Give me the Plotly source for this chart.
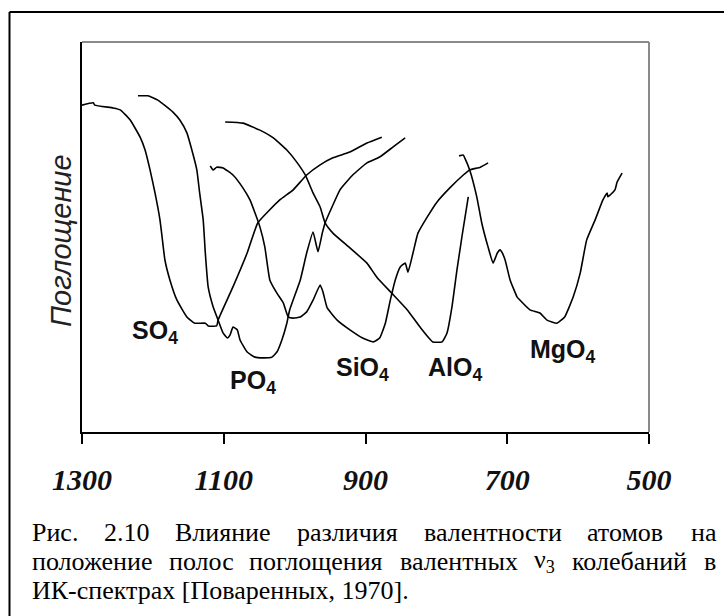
import plotly.graph_objects as go

# ---------------- data (wavenumber, cm-1 ; absorption, arbitrary units) ----------------
so4_wn = [1300, 1284, 1282, 1256, 1246, 1232, 1218, 1211, 1204, 1197, 1190, 1187, 1183, 1176, 1166, 1152,
          1141, 1126, 1122, 1110, 1108, 1087, 1067, 1052, 1021, 1002, 983, 964, 946, 922, 898, 877]
so4_ab = [83.8, 84.4, 83.8, 83.1, 82.6, 80.0, 75.6, 72.3, 67.2, 61.3, 54.4, 50.0, 44.1, 39.0, 33.8, 29.5,
          27.9, 27.9, 27.2, 27.2, 28.7, 37.2, 45.9, 53.6, 59.5, 62.1, 65.9, 68.5, 70.3, 71.8, 74.1, 75.6]

po4_wn = [1221, 1207, 1193, 1180, 1172, 1162, 1152, 1145, 1138, 1134, 1129, 1126, 1122, 1115, 1108, 1101,
          1095, 1091, 1087, 1081, 1077, 1067, 1056, 1045, 1032, 1025, 1018, 1011, 1007, 992, 983, 974,
          967, 961, 957, 946, 936, 918, 898, 880, 861, 844]
po4_ab = [86.2, 86.2, 85.1, 83.3, 82.1, 80.0, 76.7, 72.3, 67.2, 61.3, 54.4, 45.9, 37.2, 32.1, 28.7, 25.4,
          24.1, 24.9, 26.9, 26.2, 23.6, 20.5, 19.2, 19.0, 19.2, 20.5, 23.6, 27.9, 31.3, 39.0, 45.9, 51.3,
          46.2, 51.0, 53.6, 58.2, 62.1, 65.9, 69.0, 70.5, 73.1, 75.4]

sio4_wn = [1119, 1115, 1110, 1101, 1087, 1073, 1063, 1056, 1049, 1042, 1035, 1025, 1016, 1009, 1002, 992,
           983, 974, 964, 960, 954, 940, 922, 904, 889, 880, 872, 865, 858, 851, 844, 840, 833, 826, 813,
           799, 781, 762, 753, 738, 727]
sio4_ab = [68.2, 67.2, 67.9, 67.7, 65.9, 62.6, 59.5, 56.2, 52.6, 47.4, 39.0, 35.6, 33.1, 29.5, 29.2, 29.5,
           30.8, 33.8, 37.7, 35.9, 31.8, 28.7, 26.2, 24.1, 23.1, 24.1, 27.9, 33.8, 39.0, 42.3, 43.3, 41.0,
           45.9, 51.0, 55.1, 59.0, 62.6, 65.9, 67.2, 67.9, 69.0]

alo4_wn = [1098, 1073, 1049, 1030, 1011, 997, 985, 974, 964, 957, 946, 922, 898, 884, 863, 841, 823, 805,
           792, 785, 778, 771, 764, 755]
alo4_ab = [79.5, 79.2, 77.4, 75.4, 72.3, 69.2, 65.9, 61.3, 57.7, 53.6, 51.0, 47.2, 43.3, 39.7, 35.6, 31.3,
           26.9, 23.1, 23.1, 25.4, 32.1, 41.5, 50.0, 60.3]

mgo4_wn = [768, 762, 760, 753, 743, 736, 727, 720, 714, 710, 707, 703, 696, 686, 682, 668, 654, 644, 630,
           619, 607, 597, 588, 576, 565, 559, 558, 548, 545, 538]
mgo4_ab = [70.8, 71.0, 70.3, 67.2, 60.3, 53.6, 47.4, 43.3, 45.9, 46.7, 45.9, 44.1, 39.0, 34.6, 33.8, 31.3,
           30.5, 28.7, 27.9, 29.5, 34.6, 40.8, 49.2, 54.4, 59.5, 61.3, 60.3, 62.1, 64.1, 66.4]

band_names = ["SO<sub>4</sub>", "PO<sub>4</sub>", "SiO<sub>4</sub>", "AlO<sub>4</sub>", "MgO<sub>4</sub>"]
tick_values = [1300, 1100, 900, 700, 500]
tick_labels = ["1300", "1100", "900", "700", "500"]
y_title = "Поглощение"
caption_line1 = "Рис. 2.10 Влияние различия валентности атомов на"
caption_line2 = "положение полос поглощения валентных ν<sub>3</sub> колебаний в"
caption_line3 = "ИК-спектрах [Поваренных, 1970]."

# ---------------- figure geometry ----------------
W, H = 724, 616
L, R, T, B = 82, 649, 42, 432   # plot area in pixels


def pxx(px):
    return (px - L) / (R - L)


def pxy(py):
    return (B - py) / (B - T)


fig = go.Figure()
series = [(so4_wn, so4_ab), (po4_wn, po4_ab), (sio4_wn, sio4_ab), (alo4_wn, alo4_ab), (mgo4_wn, mgo4_ab)]
for xs, ys in series:
    fig.add_trace(go.Scatter(x=xs, y=ys, mode="lines",
                             line=dict(color="black", width=1.6, shape="spline", smoothing=0.4),
                             showlegend=False, hoverinfo="skip"))

# band labels
label_pos = [(1197, 25.6), (1059, 12.8), (904, 16.2), (774, 16.2), (621, 20.8)]
for name, (lx, ly) in zip(band_names, label_pos):
    fig.add_annotation(x=lx, y=ly, xref="x", yref="y", text=name, showarrow=False,
                       xanchor="center", yanchor="middle",
                       font=dict(family="Liberation Sans", size=25, weight="bold", color="#111"))

# y title
fig.add_annotation(x=pxx(61), y=pxy(241), xref="paper", yref="paper", text=y_title, showarrow=False,
                   textangle=-90, xanchor="center", yanchor="middle",
                   font=dict(family="Liberation Sans", size=29, style="italic", color="#222"))

# ---------------- caption (justified lines) ----------------
TNR = {' ': 250, '.': 250, ',': 250, '[': 333, ']': 333, '-': 333,
       '0': 500, '1': 500, '2': 500, '3': 500, '4': 500, '5': 500, '6': 500, '7': 500, '8': 500, '9': 500,
       'а': 444, 'б': 509, 'в': 472, 'г': 410, 'д': 509, 'е': 444, 'ж': 691, 'з': 395, 'и': 535, 'й': 535,
       'к': 486, 'л': 499, 'м': 633, 'н': 535, 'о': 500, 'п': 535, 'р': 500, 'с': 444, 'т': 437, 'у': 500,
       'ф': 648, 'х': 500, 'ц': 535, 'ч': 503, 'ш': 770, 'щ': 770, 'ъ': 517, 'ы': 672, 'ь': 456, 'э': 429,
       'ю': 747, 'я': 484, 'В': 667, 'И': 722, 'К': 667, 'П': 722, 'Р': 556, 'ν': 500}
CAP_SIZE = 26
CAP_LEFT, CAP_RIGHT = 30, 714


def word_width(word):
    if "<sub>" in word:
        base, rest = word.split("<sub>")
        sub = rest.replace("</sub>", "")
        return (sum(TNR.get(c, 500) for c in base) + 0.7 * sum(TNR.get(c, 500) for c in sub)) * CAP_SIZE / 1000
    return sum(TNR.get(c, 500) for c in word) * CAP_SIZE / 1000


cap_font = dict(family="Liberation Serif", size=CAP_SIZE, color="black")


def justified(line, ypix):
    words = line.split(" ")
    widths = [word_width(w) for w in words]
    gap = (CAP_RIGHT - CAP_LEFT - sum(widths)) / (len(words) - 1)
    x = CAP_LEFT
    for w, wd in zip(words, widths):
        fig.add_annotation(x=pxx(x), y=pxy(ypix), xref="paper", yref="paper", text=w, showarrow=False,
                           xanchor="left", yanchor="middle", font=cap_font)
        x += wd + gap


justified(caption_line1, 532)
justified(caption_line2, 561)
fig.add_annotation(x=pxx(CAP_LEFT), y=pxy(590), xref="paper", yref="paper", text=caption_line3,
                   showarrow=False, xanchor="left", yanchor="middle", font=cap_font)

# ---------------- frames ----------------
shapes = [
    # plot frame top / right (grey)
    dict(type="line", xref="paper", yref="paper", x0=0, y0=1, x1=1, y1=1, line=dict(color="#8a8a8a", width=2)),
    dict(type="line", xref="paper", yref="paper", x0=1, y0=0, x1=1, y1=1, line=dict(color="#8a8a8a", width=2)),
    # outer border (left and top visible)
    dict(type="line", xref="paper", yref="paper", x0=pxx(9.5), y0=pxy(12), x1=pxx(9.5), y1=pxy(640),
         line=dict(color="black", width=2)),
    dict(type="line", xref="paper", yref="paper", x0=pxx(9.5), y0=pxy(12), x1=pxx(740), y1=pxy(12),
         line=dict(color="black", width=2)),
]

fig.update_layout(
    width=W, height=H,
    margin=dict(l=L, r=W - R, t=T, b=H - B, pad=0),
    paper_bgcolor="white", plot_bgcolor="white",
    shapes=shapes,
    xaxis=dict(range=[1300, 500], tickvals=tick_values, ticktext=tick_labels,
               ticks="outside", ticklen=10, tickwidth=2, tickcolor="black",
               showline=True, linecolor="black", linewidth=2,
               showgrid=False, zeroline=False, ticklabelstandoff=10,
               tickfont=dict(family="Liberation Serif", size=30, weight="bold", style="italic", color="#111")),
    yaxis=dict(range=[0, 100], showline=True, linecolor="black", linewidth=2,
               showticklabels=False, ticks="", showgrid=False, zeroline=False),
)

fig.write_html("out.html", config={"displayModeBar": False, "staticPlot": True},
               post_script="document.body.style.margin='0px';document.body.style.overflow='hidden';")
